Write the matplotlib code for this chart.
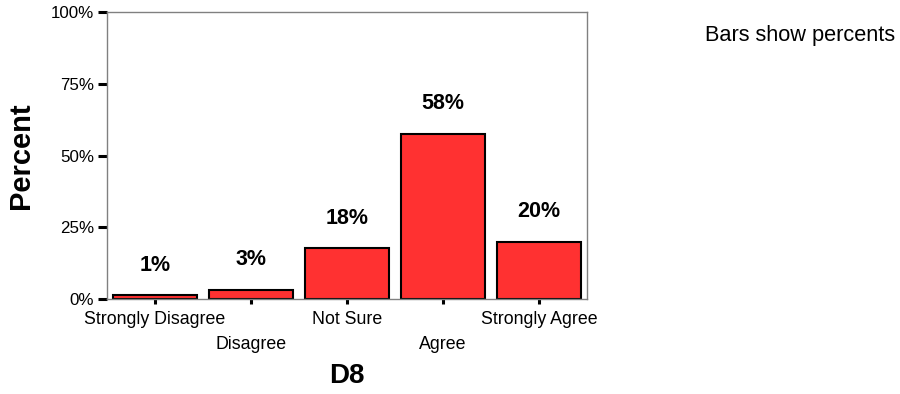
import matplotlib
matplotlib.use("Agg")
import matplotlib.pyplot as plt
from matplotlib.ticker import FixedLocator

plt.rcParams["font.family"] = ["Liberation Sans", "DejaVu Sans"]

# Response categories for item D8 and percent of respondents
categories = ["Strongly Disagree", "Disagree", "Not Sure", "Agree", "Strongly Agree"]
percents = [1.3, 3.3, 17.8, 57.6, 20.0]
ytick_values = [0, 25, 50, 75, 100]
ytick_labels = ["0%", "25%", "50%", "75%", "100%"]

fig = plt.figure(figsize=(9.0, 3.94), dpi=100)
ax = fig.add_axes([107 / 900, 1 - 299 / 394, 480 / 900, 287 / 394])

x = list(range(len(categories)))
bars = ax.bar(x, percents, width=0.865, color="#FF3131", edgecolor="black",
              linewidth=1.5, zorder=2)

for xi, v in zip(x, percents):
    ax.annotate(f"{v:.0f}%", xy=(xi, v), xytext=(0, 21.5), textcoords="offset points",
                ha="center", va="center", fontsize=15.5, fontweight="bold")

ax.set_xlim(-0.5, len(categories) - 0.5)
ax.set_ylim(0, 100)

ax.yaxis.set_major_locator(FixedLocator(ytick_values))
ax.set_yticklabels(ytick_labels, fontsize=12.2)
ax.set_xticks(x)
ax.set_xticklabels(categories, fontsize=12.8)

ax.tick_params(axis="y", direction="out", length=6.5, width=2.2, color="black", pad=3)
ax.tick_params(axis="x", direction="out", length=3.6, width=2.2, color="black", pad=5)
for i, tick in enumerate(ax.xaxis.get_major_ticks()):
    if i % 2 == 1:
        tick.set_pad(5 + 18)

for side in ["left", "right", "top", "bottom"]:
    ax.spines[side].set_color("#808080")
    ax.spines[side].set_linewidth(1.0)

ax.set_ylabel("Percent", fontsize=21, fontweight="bold")
ax.yaxis.label.set_verticalalignment("center")
ax.yaxis.set_label_coords(-0.179, 0.5)

ax.set_xlabel("D8", fontsize=20, fontweight="bold")
ax.xaxis.label.set_verticalalignment("center")
ax.xaxis.set_label_coords(0.5, -0.268)

fig.text(705 / 900, 1 - 35 / 394, "Bars show percents", fontsize=15.7,
         ha="left", va="center")

fig.savefig("out.png", dpi=100)
